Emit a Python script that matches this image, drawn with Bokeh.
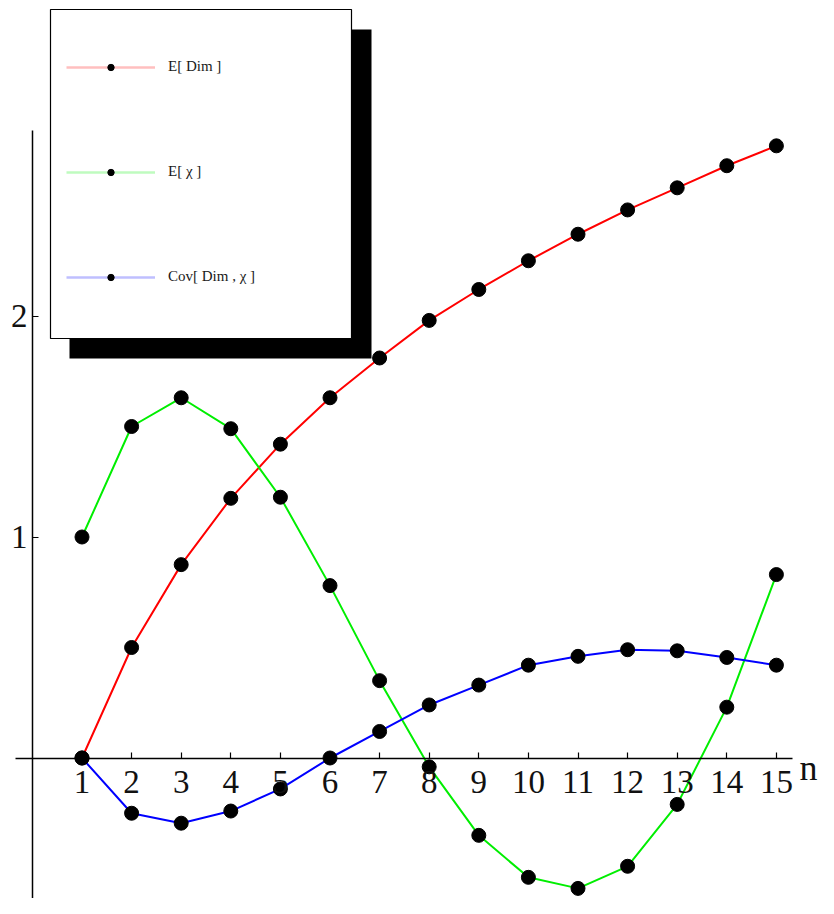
from bokeh.plotting import figure
from bokeh.models import (Range1d, LinearAxis, FixedTicker, Legend, LegendItem,
                          BoxAnnotation, Label)
from bokeh.embed import file_html
from bokeh.resources import INLINE

# ---- data ----
n = list(range(1, 16))
e_dim = [0.0, 0.50, 0.875, 1.175, 1.42, 1.63, 1.81, 1.98, 2.12, 2.25, 2.37, 2.48, 2.58, 2.68, 2.77]
e_chi = [1.0, 1.50, 1.63, 1.49, 1.18, 0.78, 0.35, -0.04, -0.35, -0.54, -0.59, -0.49, -0.21, 0.23, 0.83]
cov = [0.0, -0.25, -0.295, -0.24, -0.14, 0.0, 0.12, 0.24, 0.33, 0.42, 0.46, 0.49, 0.485, 0.455, 0.42]
series_labels = ["E[ Dim ]", "E[ χ ]", "Cov[ Dim , χ ]"]
x_ticks = list(range(1, 16))
y_ticks = [1, 2]

# ---- layout helpers (figure pixel -> data) ----
W, H = 818, 898
X1PX, DXPX = 81.5, 49.6
Y0PX, DYPX = 757.5, 221.0


def px2x(px):
    return 1 + (px - X1PX) / DXPX


def px2y(py):
    return (Y0PX - py) / DYPX


p = figure(width=W, height=H, output_backend="svg", toolbar_location=None,
           x_axis_location=None, y_axis_location=None,
           x_range=Range1d(px2x(0), px2x(W)),
           y_range=Range1d(px2y(H), px2y(0)))
p.min_border = 0
p.outline_line_color = None
p.grid.visible = False
p.background_fill_color = "white"
# an off-screen range used only by the legend-sample renderers
p.extra_y_ranges = {"legend_only": Range1d(100, 101)}

FONT = "Liberation Serif"

xaxis = LinearAxis(fixed_location=0, ticker=FixedTicker(ticks=x_ticks),
                   bounds=(px2x(15), px2x(792)))
xaxis.major_tick_in = 6
xaxis.major_tick_out = 0
xaxis.minor_tick_in = 0
xaxis.minor_tick_out = 0
xaxis.axis_line_width = 1.5
xaxis.major_tick_line_width = 1.2
xaxis.major_label_text_font = FONT
xaxis.major_label_text_font_size = "33px"
xaxis.major_label_text_color = "#111111"
xaxis.major_label_standoff = 13
p.add_layout(xaxis, "below")

yaxis = LinearAxis(fixed_location=0, ticker=FixedTicker(ticks=y_ticks),
                   bounds=(px2y(905), px2y(130)))
yaxis.major_tick_in = 6
yaxis.major_tick_out = 0
yaxis.minor_tick_in = 0
yaxis.minor_tick_out = 0
yaxis.axis_line_width = 1.5
yaxis.major_tick_line_width = 1.2
yaxis.major_label_text_font = FONT
yaxis.major_label_text_font_size = "33px"
yaxis.major_label_text_color = "#111111"
yaxis.major_label_standoff = 5
p.add_layout(yaxis, "left")

colors = ["#ff0000", "#00ee00", "#0000ff"]
values = [e_dim, e_chi, cov]

for vals, c in zip(values, colors):
    p.line(n, vals, line_color=c, line_width=2)
for vals in values:
    p.scatter(n, vals, size=14, fill_color="black", line_color="black")

p.add_layout(Label(x=px2x(808), y=px2y(767), text="n", text_font=FONT,
                   text_font_size="36px", text_align="center",
                   text_baseline="alphabetic", text_color="#111111"))

# legend frame with drop shadow
p.add_layout(BoxAnnotation(left=px2x(69), right=px2x(371), top=px2y(29), bottom=px2y(358),
                           fill_color="black", fill_alpha=1.0, line_color=None))
p.add_layout(BoxAnnotation(left=px2x(50), right=px2x(351), top=px2y(9), bottom=px2y(338),
                           fill_color="white", fill_alpha=1.0, line_color="#000000",
                           line_alpha=1.0, line_width=1.2))

# legend sample glyphs: same data, mapped to an off-screen range
items = []
for lab, vals, c in zip(series_labels, values, colors):
    lr = p.line(n, vals, line_color=c, line_alpha=0.25, line_width=2.5,
                y_range_name="legend_only")
    sr = p.scatter(n, vals, fill_color="black", line_color="black",
                   y_range_name="legend_only")
    items.append(LegendItem(label=lab, renderers=[lr, sr]))

legend = Legend(items=items, location=(66, 613), orientation="vertical",
                border_line_color=None, background_fill_alpha=0.0,
                padding=0, margin=0, spacing=88, label_height=16, glyph_height=16,
                glyph_width=89, label_standoff=13, label_text_font=FONT,
                label_text_font_size="15px", label_text_color="#1a1a1a")
p.add_layout(legend)

open("out.html", "w").write(file_html(p, INLINE))
